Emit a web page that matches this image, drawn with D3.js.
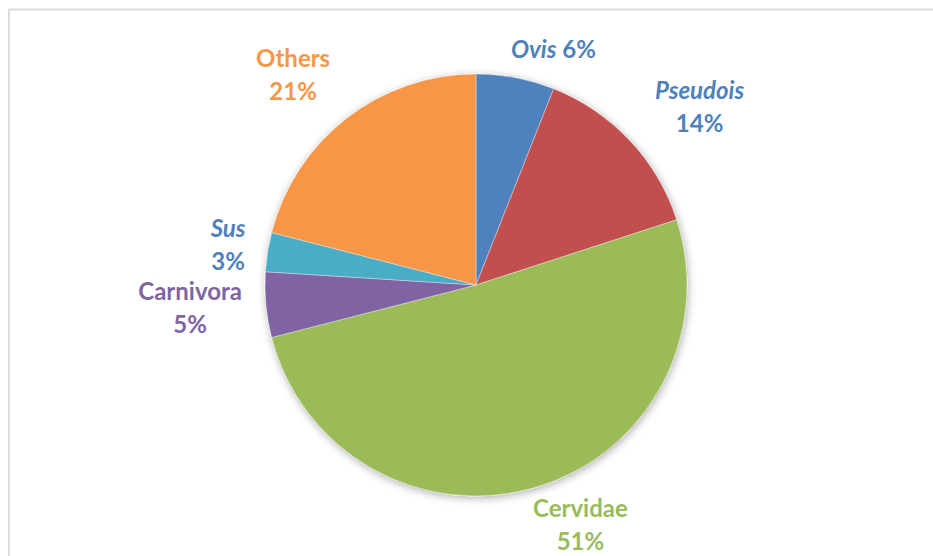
<!DOCTYPE html>
<html>
<head>
<meta charset="utf-8">
<script src="https://cdn.jsdelivr.net/npm/d3@7"></script>
<style>
  html, body { margin: 0; padding: 0; background: #ffffff; }
  svg { display: block; }
  text { font-family: Lato, "Open Sans", sans-serif; font-weight: 700; }
</style>
</head>
<body>
<svg id="chart" width="933" height="556"></svg>
<script>
// Share of identified remains by taxon (percent)
const categories = ["Ovis", "Pseudois", "Cervidae", "Carnivora", "Sus", "Others"];
const values = [6, 14, 51, 5, 3, 21];
const sliceColors = ["#4F81BD", "#C0504D", "#9BBB59", "#8064A2", "#4BACC6", "#F79646"];
const labelColors = ["#4F81BD", "#4F81BD", "#9BBB59", "#8064A2", "#4F81BD", "#F79646"];
const italicNames = ["Ovis", "Pseudois", "Sus"];
const singleLineLabels = ["Ovis"];

const W = 933, H = 556;
const cx = 476, cy = 285, radius = 211;

const svg = d3.select("#chart");

// chart-area frame (top and left edges)
svg.append("line").attr("x1", 9).attr("x2", W).attr("y1", 9.5).attr("y2", 9.5)
  .attr("stroke", "#dcdcdc").attr("stroke-width", 2);
svg.append("line").attr("x1", 9).attr("x2", 9).attr("y1", 9).attr("y2", H)
  .attr("stroke", "#dcdcdc").attr("stroke-width", 2);

// soft outer shadow for the pie
const defs = svg.append("defs");
const f = defs.append("filter").attr("id", "pieShadow")
  .attr("x", "-20%").attr("y", "-20%").attr("width", "140%").attr("height", "140%");
f.append("feDropShadow").attr("dx", 1).attr("dy", 2).attr("stdDeviation", 4.5)
  .attr("flood-color", "#000").attr("flood-opacity", 0.32);

const pie = d3.pie().sort(null).value(d => d.value)
  .startAngle(0).endAngle(2 * Math.PI);
const data = categories.map((c, i) => ({ name: c, value: values[i], i }));
const arcs = pie(data);

const arc = d3.arc().innerRadius(0).outerRadius(radius);

const g = svg.append("g").attr("transform", `translate(${cx},${cy})`);
g.append("g").attr("filter", "url(#pieShadow)")
  .selectAll("path").data(arcs).join("path")
  .attr("d", arc)
  .attr("fill", d => sliceColors[d.data.i])
  .attr("stroke", "#ffffff").attr("stroke-width", 0.6).attr("stroke-opacity", 0.6);

// labels: anchored on each slice's mid angle, then nudged off neighbouring labels
const labelR = radius + 45;
const nudge = {
  Ovis: [29.5, 24.5], Pseudois: [37, -11], Cervidae: [33, -14],
  Carnivora: [-31, -9], Sus: [5, -8], Others: [-26, -16]
};
const lineGap = 33;
const total = d3.sum(values);

g.append("g").selectAll("text").data(arcs).join("text")
  .attr("text-anchor", "middle")
  .attr("font-size", 24)
  .attr("fill", d => labelColors[d.data.i])
  .each(function (d) {
    const mid = (d.startAngle + d.endAngle) / 2;
    const [nx, ny] = nudge[d.data.name];
    const x = labelR * Math.sin(mid) + nx;
    const y = -labelR * Math.cos(mid) + ny;
    const t = d3.select(this).attr("x", x).attr("y", y);
    const pct = Math.round(d.data.value / total * 100) + "%";
    const italic = italicNames.includes(d.data.name);
    if (singleLineLabels.includes(d.data.name)) {
      t.append("tspan").attr("font-style", italic ? "italic" : "normal").text(d.data.name);
      t.append("tspan").text(" " + pct);
    } else {
      t.append("tspan").attr("x", x).attr("font-style", italic ? "italic" : "normal").text(d.data.name);
      t.append("tspan").attr("x", x).attr("dy", lineGap).text(pct);
    }
  });
</script>
</body>
</html>
